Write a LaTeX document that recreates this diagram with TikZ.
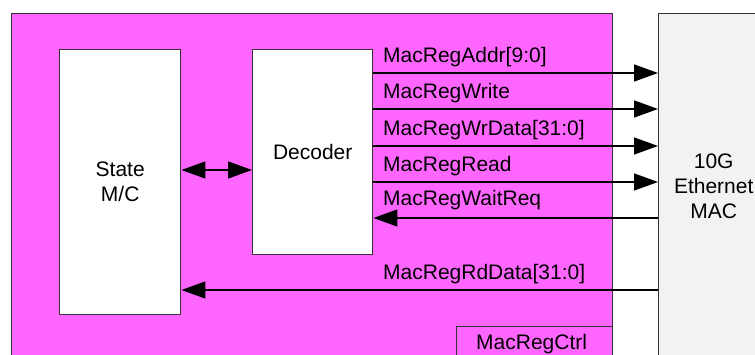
\documentclass[tikz,border=0pt]{standalone}
\usepackage{fontspec}
\setmainfont{Liberation Sans}
\usetikzlibrary{arrows.meta}
\definecolor{ctrlfill}{HTML}{FF66FF}
\definecolor{macfill}{HTML}{F2F2F2}
\definecolor{edge}{HTML}{333333}
\tikzset{
  blk/.style={draw=edge, line width=1.4pt, rectangle, inner sep=0pt, align=center,
              font=\fontsize{21}{25}\selectfont},
  sig/.style={draw=black, line width=1.4pt,
              -{Triangle[length=24pt,width=17pt]}},
  bidir/.style={draw=black, line width=1.4pt,
              {Triangle[length=24pt,width=17pt]}-{Triangle[length=24pt,width=17pt]}},
  lbl/.style={anchor=base west, inner sep=0pt, font=\fontsize{21}{25}\selectfont},
}
\begin{document}
\begin{tikzpicture}[x=1pt,y=1pt]
\useasboundingbox (0,0) rectangle (755,355);
\clip (0,0) rectangle (755,355);
\fill[white] (0,0) rectangle (755,355);

% register controller block
\node[blk, fill=ctrlfill, minimum width=601pt, minimum height=352pt, anchor=north west]
  (ctrl) at (11,342) {};
\node[blk, fill=white, minimum width=121pt, minimum height=265pt, anchor=north west]
  (fsm) at (59,306) {State\\M/C};
\node[blk, fill=white, minimum width=120pt, minimum height=205pt, anchor=north west]
  (dec) at (252,306) {Decoder};
\node[blk, fill=ctrlfill, minimum width=156pt, minimum height=40pt, anchor=north west]
  (rc) at (456,29) {};
\node[lbl] (rclbl) at (476,5) {MacRegCtrl};

% MAC block
\node[blk, fill=macfill, minimum width=110pt, minimum height=346pt, anchor=north west]
  (mac) at (658,342) {10G\\Ethernet\\MAC};

% connection points
\coordinate (yaddr) at (0,282);
\coordinate (ywr) at (0,246);
\coordinate (ywd) at (0,209);
\coordinate (yrd) at (0,173);
\coordinate (ywait) at (0,137);
\coordinate (yrdata) at (0,65);
\coordinate (ybus) at (0,185);

\draw[bidir] (fsm.east |- ybus) -- (dec.west |- ybus);
\draw[sig] (dec.east |- yaddr) -- (mac.west |- yaddr);
\draw[sig] (dec.east |- ywr) -- (mac.west |- ywr);
\draw[sig] (dec.east |- ywd) -- (mac.west |- ywd);
\draw[sig] (dec.east |- yrd) -- (mac.west |- yrd);
\draw[sig] (mac.west |- ywait) -- (dec.east |- ywait);
\draw[sig] (mac.west |- yrdata) -- (fsm.east |- yrdata);

% signal names
\node[lbl] (l1) at (383,292) {MacRegAddr[9:0]};
\node[lbl] (l2) at (383,256) {MacRegWrite};
\node[lbl] (l3) at (383,219) {MacRegWrData[31:0]};
\node[lbl] (l4) at (383,183) {MacRegRead};
\node[lbl] (l5) at (383,149) {MacRegWaitReq};
\node[lbl] (l6) at (383,75) {MacRegRdData[31:0]};
\end{tikzpicture}
\end{document}
